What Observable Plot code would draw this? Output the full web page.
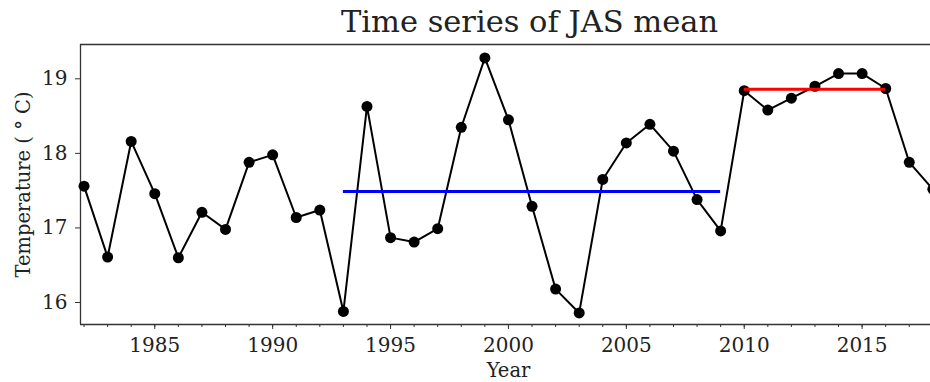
<!DOCTYPE html>
<html>
<head>
<meta charset="utf-8">
<script src="https://cdn.jsdelivr.net/npm/d3@7"></script>
<script src="https://cdn.jsdelivr.net/npm/@observablehq/plot@0.6"></script>
<style>
  html, body { margin: 0; padding: 0; background: #fff; }
  #wrap { width: 930px; height: 382px; position: relative; overflow: hidden; }
  #title { height: 38px; position: relative; font-family: "DejaVu Serif"; font-size: 30.5px; color: #222; }
  #title span { position: absolute; left: 529.5px; top: 7px; transform: translateX(-50%); line-height: 30.5px; white-space: nowrap; }
</style>
</head>
<body>
<div id="wrap">
  <div id="title"><span id="titleText"></span></div>
  <div id="chart"></div>
</div>
<script>
const titleText = "Time series of JAS mean";
const xLabel = "Year";
const yLabel = "Temperature ( \u00B0 C)";

const years = [1982, 1983, 1984, 1985, 1986, 1987, 1988, 1989, 1990, 1991,
               1992, 1993, 1994, 1995, 1996, 1997, 1998, 1999, 2000, 2001,
               2002, 2003, 2004, 2005, 2006, 2007, 2008, 2009, 2010, 2011,
               2012, 2013, 2014, 2015, 2016, 2017, 2018];
const temps = [17.56, 16.61, 18.16, 17.46, 16.60, 17.21, 16.98, 17.88, 17.98, 17.14,
               17.24, 15.88, 18.63, 16.87, 16.81, 16.99, 18.35, 19.28, 18.45, 17.29,
               16.18, 15.86, 17.65, 18.14, 18.39, 18.03, 17.38, 16.96, 18.84, 18.58,
               18.74, 18.90, 19.07, 19.07, 18.87, 17.88, 17.52];

const periodStart = [1993, 2010];
const periodEnd = [2009, 2016];
const periodMean = [17.49, 18.86];
const periodColor = ["blue", "red"];

const majorTicks = [1985, 1990, 1995, 2000, 2005, 2010, 2015];
const minorTicks = years;
const yTicks = [16, 17, 18, 19];

const xDomain = [1981.85, 2017.9];
const yDomain = [15.705, 19.46];

document.getElementById("titleText").textContent = titleText;

const series = years.map((year, i) => ({year, temp: temps[i]}));
const periods = periodStart.map((s, i) => ({start: s, end: periodEnd[i], mean: periodMean[i], color: periodColor[i]}));

const spine = "#333";
const chart = Plot.plot({
  width: 930,
  height: 344,
  marginTop: 6,
  marginBottom: 58,
  marginLeft: 80,
  marginRight: 0,
  x: {domain: xDomain},
  y: {domain: yDomain},
  color: {type: "identity"},
  style: {fontFamily: "DejaVu Serif", fontSize: "20px", color: "#222", background: "white"},
  marks: [
    Plot.axisX(minorTicks, {tickSize: 3, tickFormat: () => "", label: null, stroke: spine}),
    Plot.axisX(majorTicks, {tickSize: 5, tickPadding: 8, tickFormat: "d", label: null, stroke: spine}),
    Plot.axisY(yTicks, {tickSize: 5, tickPadding: 8, tickFormat: "d", label: null, stroke: spine}),
    Plot.ruleY(yDomain, {stroke: spine, strokeWidth: 1.3}),
    Plot.ruleX([xDomain[0]], {stroke: spine, strokeWidth: 1.3}),
    Plot.line(series, {x: "year", y: "temp", stroke: "black", strokeWidth: 2}),
    Plot.dot(series, {x: "year", y: "temp", fill: "black", r: 5.5}),
    Plot.ruleY(periods, {y: "mean", x1: "start", x2: "end", stroke: "color", strokeWidth: 3}),
    Plot.text([yLabel], {frameAnchor: "left", textAnchor: "middle", lineAnchor: "middle", dx: -57, rotate: -90, fontSize: 19.5, fill: "#222"}),
    Plot.text([xLabel], {frameAnchor: "bottom", textAnchor: "middle", lineAnchor: "middle", dx: 3, dy: 46, fontSize: 19.5, fill: "#222"})
  ]
});
document.getElementById("chart").appendChild(chart);
</script>
</body>
</html>
